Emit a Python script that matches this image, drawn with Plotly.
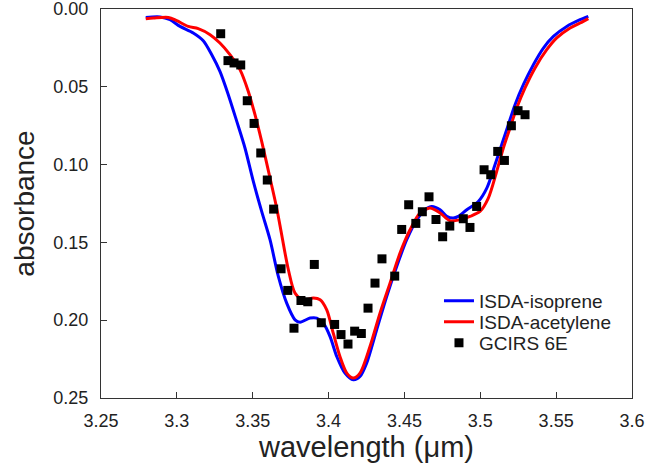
import plotly.graph_objects as go

# ISDA-isoprene model curve
iso_wl = [3.2795, 3.2889, 3.2955, 3.3021, 3.3108, 3.3174, 3.3230, 3.3284, 3.3339, 3.3395,
          3.3449, 3.3504, 3.3559, 3.3614, 3.3669, 3.3724, 3.3779, 3.3812, 3.3878, 3.3922,
          3.3965, 3.4010, 3.4054, 3.4108, 3.4163, 3.4207, 3.4251, 3.4317, 3.4383, 3.4449,
          3.4515, 3.4581, 3.4636, 3.4680, 3.4735, 3.4779, 3.4822, 3.4855, 3.4911, 3.4987,
          3.5043, 3.5097, 3.5141, 3.5185, 3.5229, 3.5284, 3.5350, 3.5416, 3.5482, 3.5570,
          3.5658, 3.5712]
iso_abs = [0.0053, 0.0050, 0.0068, 0.0111, 0.0153, 0.0203, 0.0293, 0.0400, 0.0550, 0.0722,
           0.0893, 0.1108, 0.1301, 0.1483, 0.1719, 0.1891, 0.1998, 0.2013, 0.1987, 0.1987,
           0.2019, 0.2106, 0.2234, 0.2341, 0.2384, 0.2363, 0.2277, 0.2062, 0.1848, 0.1655,
           0.1483, 0.1355, 0.1290, 0.1269, 0.1290, 0.1333, 0.1344, 0.1333, 0.1290, 0.1237,
           0.1151, 0.1001, 0.0872, 0.0743, 0.0615, 0.0486, 0.0357, 0.0250, 0.0175, 0.0111,
           0.0068, 0.0046]

# ISDA-acetylene model curve
ace_wl = [3.2795, 3.2845, 3.2944, 3.2999, 3.3075, 3.3141, 3.3219, 3.3284, 3.3350, 3.3416,
          3.3471, 3.3515, 3.3559, 3.3614, 3.3658, 3.3691, 3.3735, 3.3779, 3.3834, 3.3900,
          3.3944, 3.3988, 3.4031, 3.4075, 3.4120, 3.4163, 3.4207, 3.4273, 3.4339, 3.4405,
          3.4471, 3.4537, 3.4602, 3.4668, 3.4735, 3.4800, 3.4866, 3.4932, 3.4998, 3.5053,
          3.5108, 3.5152, 3.5196, 3.5240, 3.5295, 3.5361, 3.5438, 3.5504, 3.5592, 3.5658,
          3.5712]
ace_abs = [0.0061, 0.0057, 0.0053, 0.0074, 0.0111, 0.0125, 0.0164, 0.0218, 0.0293, 0.0389,
           0.0529, 0.0679, 0.0851, 0.1086, 0.1279, 0.1451, 0.1676, 0.1826, 0.1869, 0.1858,
           0.1869, 0.1934, 0.2084, 0.2234, 0.2341, 0.2373, 0.2341, 0.2170, 0.1955, 0.1762,
           0.1569, 0.1419, 0.1311, 0.1279, 0.1311, 0.1361, 0.1355, 0.1333, 0.1301, 0.1215,
           0.1044, 0.0893, 0.0764, 0.0636, 0.0507, 0.0378, 0.0261, 0.0185, 0.0121, 0.0089,
           0.0061]

# GCIRS 6E observed spectrum
obs_wl = [3.3289, 3.3337, 3.3377, 3.3421, 3.3464, 3.3509, 3.3553, 3.3596, 3.3638, 3.3687,
          3.3731, 3.3772, 3.3818, 3.3863, 3.3906, 3.3952, 3.4040, 3.4082, 3.4128, 3.4172,
          3.4216, 3.4260, 3.4306, 3.4352, 3.4436, 3.4482, 3.4528, 3.4575, 3.4618, 3.4662,
          3.4708, 3.4752, 3.4799, 3.4888, 3.4932, 3.4976, 3.5025, 3.5069, 3.5115, 3.5159,
          3.5205, 3.5249, 3.5295]
obs_abs = [0.0158, 0.0331, 0.0346, 0.0359, 0.0589, 0.0735, 0.0925, 0.1099, 0.1286, 0.1670,
           0.1809, 0.2052, 0.1874, 0.1882, 0.1642, 0.2017, 0.2028, 0.2093, 0.2154, 0.2071,
           0.2086, 0.1923, 0.1762, 0.1606, 0.1717, 0.1417, 0.1258, 0.1378, 0.1303, 0.1207,
           0.1353, 0.1464, 0.1395, 0.1348, 0.1404, 0.1269, 0.1033, 0.1065, 0.0915, 0.0973,
           0.0750, 0.0653, 0.0679]

x_ticks = [3.25, 3.3, 3.35, 3.4, 3.45, 3.5, 3.55, 3.6]
x_labels = ["3.25", "3.3", "3.35", "3.4", "3.45", "3.5", "3.55", "3.6"]
y_ticks = [0.0, 0.05, 0.10, 0.15, 0.20, 0.25]
y_labels = ["0.00", "0.05", "0.10", "0.15", "0.20", "0.25"]

FONT = "Arial, Liberation Sans, sans-serif"

fig = go.Figure()
fig.add_trace(go.Scatter(x=iso_wl, y=iso_abs, mode="lines", name="ISDA-isoprene",
                         legend="legend",
                         line=dict(color="#0000ff", width=3, shape="spline", smoothing=0.8)))
fig.add_trace(go.Scatter(x=ace_wl, y=ace_abs, mode="lines", name="ISDA-acetylene",
                         legend="legend2",
                         line=dict(color="#ff0000", width=3, shape="spline", smoothing=0.8)))
fig.add_trace(go.Scatter(x=obs_wl, y=obs_abs, mode="markers", name="GCIRS 6E",
                         legend="legend3",
                         marker=dict(symbol="square", size=9, color="black")))

axis_common = dict(showline=True, linecolor="#333333", linewidth=1, mirror=True,
                   ticks="inside", ticklen=6, tickwidth=1, tickcolor="#333333",
                   showgrid=False, zeroline=False, automargin=False,
                   ticklabeloverflow="allow",
                   tickfont=dict(family=FONT, size=18, color="#222222"))

leg_common = dict(xanchor="left", yanchor="middle", x=0.6365,
                  bgcolor="rgba(0,0,0,0)", borderwidth=0,
                  font=dict(family=FONT, size=19, color="#222222"))

fig.update_layout(
    width=670, height=472,
    margin=dict(l=101, r=38, t=9, b=74, autoexpand=False),
    paper_bgcolor="white", plot_bgcolor="white",
    font=dict(family=FONT, color="#222222"),
    xaxis=dict(range=[3.25, 3.6], tickvals=x_ticks, ticktext=x_labels,
               ticklabelstandoff=6,
               title=dict(text="wavelength (μm)", font=dict(family=FONT, size=29), standoff=7),
               **axis_common),
    yaxis=dict(range=[0.2501, -0.0001], tickvals=y_ticks, ticktext=y_labels,
               ticklabelstandoff=8,
               title=dict(text="absorbance", font=dict(family=FONT, size=28), standoff=10),
               **axis_common),
    legend=dict(y=0.2497, **leg_common),
    legend2=dict(y=0.1956, **leg_common),
    legend3=dict(y=0.1416, **leg_common),
    showlegend=True,
)

fig.write_html("out.html", config={"displayModeBar": False},
               post_script="document.body.style.margin='0';document.body.style.padding='0';")
